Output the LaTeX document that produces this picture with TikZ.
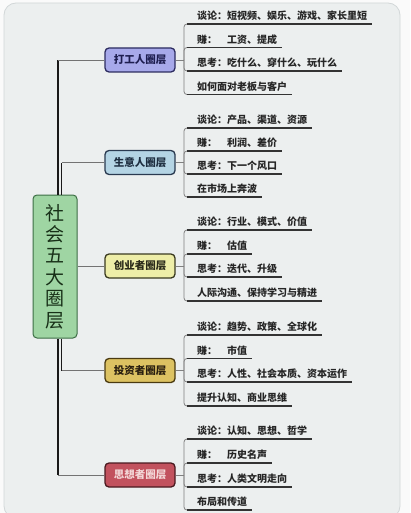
\documentclass[tikz,border=0pt]{standalone}
\usepackage{fontspec}
\setmainfont{Noto Sans CJK SC}
\definecolor{bgfill}{HTML}{ECEFEF}
\definecolor{bgline}{HTML}{D2D7D8}
\definecolor{fA}{HTML}{A7A9EA}\definecolor{dA}{HTML}{2C2C60}\definecolor{tA}{HTML}{1E1E50}
\definecolor{fB}{HTML}{B4D4E4}\definecolor{dB}{HTML}{2A3A50}\definecolor{tB}{HTML}{1E2E40}
\definecolor{fC}{HTML}{EEEEA8}\definecolor{dC}{HTML}{3A3A20}\definecolor{tC}{HTML}{2A2A1A}
\definecolor{fD}{HTML}{DCC262}\definecolor{dD}{HTML}{4A3A10}\definecolor{tD}{HTML}{2A2010}
\definecolor{fE}{HTML}{C2525E}\definecolor{dE}{HTML}{4A1A20}\definecolor{tE}{HTML}{F3D8D8}
\definecolor{fG}{HTML}{9FD5A3}\definecolor{dG}{HTML}{3C6E44}\definecolor{tG}{HTML}{183018}
\tikzset{
  bnode/.style={rounded corners=4pt, line width=1.3pt, minimum width=70pt, minimum height=24pt,
    inner sep=0pt, font=\fontsize{10.5}{12}\selectfont\bfseries},
  cnode/.style={rounded corners=4pt, line width=1pt, minimum width=44pt, minimum height=143pt,
    inner sep=0pt, align=center, fill=fG, draw=dG, text=tG,
    font=\fontsize{19}{21.4}\selectfont},
  leaf/.style={anchor=west, inner sep=0pt, text=black!85, font=\fontsize{10}{12}\selectfont\bfseries},
  uline/.style={line width=1.2pt, draw=black!80},
  brk/.style={line width=0.8pt, draw=black!50, rounded corners=3pt},
  trunkv/.style={line width=1.6pt, draw=black!90},
  trunkh/.style={line width=0.9pt, draw=black!55},
}
\newcommand\mkleaf[4]{%
  \coordinate (#1u) at (187,#3);
  \node[leaf] (#1) at (197,#3-8) {#4};
  \draw[brk] (#2) |- (#1u);
  \draw[uline] (#1u) -- (#1.east |- #1u) -- ++(5,0);}
\begin{document}
\begin{tikzpicture}[x=1pt,y=-1pt]
\useasboundingbox (0,0) rectangle (410,513);
\fill[white!96!gray] (0,0) rectangle (410,513);
\begin{scope}
\clip (0,0) rectangle (410,513);
\draw[fill=bgfill, draw=bgline, rounded corners=12pt, line width=0.8pt] (4,3) rectangle (400,518);
\end{scope}
% central node
\node[cnode] (c) at (55,266.5) {社\\会\\五\\大\\圈\\层};
% branch nodes
\node[bnode, fill=fA, draw=dA, text=tA] (n1) at (140,60) {打工人圈层};
\node[bnode, fill=fB, draw=dB, text=tB] (n2) at (140,162.5) {生意人圈层};
\node[bnode, fill=fC, draw=dC, text=tC] (n3) at (140,266) {创业者圈层};
\node[bnode, fill=fD, draw=dD, text=tD] (n4) at (140,370.5) {投资者圈层};
\node[bnode, fill=fE, draw=dE, text=tE] (n5) at (140,475) {思想者圈层};
% trunk
\coordinate (tl) at (58,0);
\coordinate (tr) at (61.5,0);
\draw[trunkv] (c.north -| tl) -- (n1.west -| tl);
\draw[trunkh] (n1.west -| tl) -- (n1.west);
\draw[trunkv] (c.north -| tr) -- (n2.west -| tr);
\draw[trunkh] (n2.west -| tr) -- (n2.west);
\draw[trunkh] (n3.west -| c.east) -- (n3.west);
\draw[trunkv] (c.south -| tr) -- (n4.west -| tr);
\draw[trunkh] (n4.west -| tr) -- (n4.west);
\draw[trunkv] (c.south -| tl) -- (n5.west -| tl);
\draw[trunkh] (n5.west -| tl) -- (n5.west);
% junctions
\coordinate (jx) at (184,0);
\foreach \i in {1,...,5}{
  \coordinate (j\i) at (n\i.east -| jx);
  \draw[brk] (n\i.east) -- (j\i);
}
% leaves
\mkleaf{a1}{j1}{24}{谈论：短视频、娱乐、游戏、家长里短}
\mkleaf{a2}{j1}{47.5}{赚：\quad 工资、提成}
\mkleaf{a3}{j1}{71}{思考：吃什么、穿什么、玩什么}
\mkleaf{a4}{j1}{94.5}{如何面对老板与客户}
\mkleaf{b1}{j2}{128}{谈论：产品、渠道、资源}
\mkleaf{b2}{j2}{151}{赚：\quad 利润、差价}
\mkleaf{b3}{j2}{174}{思考：下一个风口}
\mkleaf{b4}{j2}{197}{在市场上奔波}
\mkleaf{c1}{j3}{230}{谈论：行业、模式、价值}
\mkleaf{c2}{j3}{254}{赚：\quad 估值}
\mkleaf{c3}{j3}{277}{思考：迭代、升级}
\mkleaf{c4}{j3}{301}{人际沟通、保持学习与精进}
\mkleaf{d1}{j4}{335}{谈论：趋势、政策、全球化}
\mkleaf{d2}{j4}{358.5}{赚：\quad 市值}
\mkleaf{d3}{j4}{382}{思考：人性、社会本质、资本运作}
\mkleaf{d4}{j4}{406}{提升认知、商业思维}
\mkleaf{e1}{j5}{439}{谈论：认知、思想、哲学}
\mkleaf{e2}{j5}{463}{赚：\quad 历史名声}
\mkleaf{e3}{j5}{487}{思考：人类文明走向}
\mkleaf{e4}{j5}{510}{布局和传道}
\end{tikzpicture}
\end{document}
